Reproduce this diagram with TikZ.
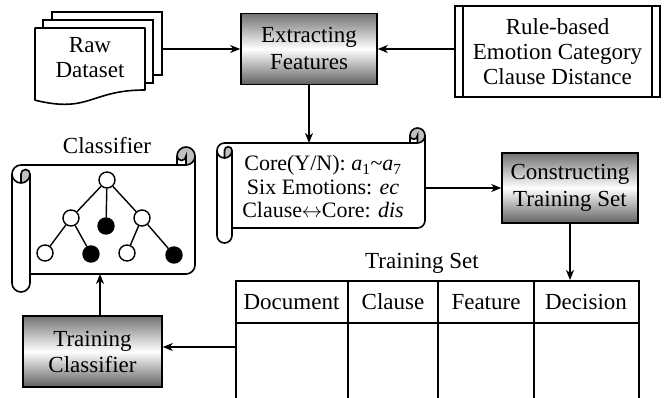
\documentclass[tikz,border=0pt]{standalone}
\usepackage{fontspec}
\setmainfont{Liberation Serif}
\usetikzlibrary{arrows.meta}
\tikzset{
  procbox/.style={draw, line width=1.6pt, top color=black!55, bottom color=black!62, middle color=white, align=center, inner sep=0pt},
  plainbox/.style={draw, line width=1.6pt, fill=white, align=center, inner sep=0pt},
  conn/.style={line width=1.6pt, -{Stealth[length=10pt,width=8pt,inset=3pt]}},
  lbl/.style={align=center, inner sep=0pt},
  outl/.style={line width=1.6pt},
  curl/.style={fill=black!25},
  opennode/.style={circle, draw, line width=1.4pt, fill=white, minimum size=16pt, inner sep=0pt},
  fullnode/.style={circle, draw, line width=1.4pt, fill=black, minimum size=16pt, inner sep=0pt},
  treeline/.style={line width=1.4pt}
}
% scroll shape: left, top, right, bottom, ch
\newcommand{\myscrollshape}[5]{%
  \pgfmathsetmacro{\scL}{#1}\pgfmathsetmacro{\scT}{#2}%
  \pgfmathsetmacro{\scR}{#3}\pgfmathsetmacro{\scB}{#4}%
  \pgfmathsetmacro{\scC}{#5}\pgfmathsetmacro{\scH}{#5/2}\pgfmathsetmacro{\scQ}{#5/4}%
  \pgfmathsetmacro{\yC}{\scT+\scC}\pgfmathsetmacro{\yH}{\scT+\scH}%
  \pgfmathsetmacro{\yThree}{\scT+1.5*\scC}\pgfmathsetmacro{\yFour}{\scT+2*\scC}%
  \pgfmathsetmacro{\ySix}{\scB-\scC}\pgfmathsetmacro{\ySeven}{\scB-\scH}%
  \pgfmathsetmacro{\yFive}{\ySix-\scH}%
  \pgfmathsetmacro{\xThree}{\scR-\scC}\pgfmathsetmacro{\xFour}{\scR-\scH}%
  \pgfmathsetmacro{\xH}{\scL+\scH}\pgfmathsetmacro{\xC}{\scL+\scC}%
  \fill[white] (\scL,\yThree) arc (180:270:\scH) -- (\xThree,\yC) -- (\xThree,\yH) arc (180:360:\scH)
     -- (\scR,\yFive) arc (0:90:\scH) -- (\xC,\ySix) -- (\xC,\ySeven) arc (0:180:\scH) -- cycle;
  \fill[curl] (\xH,\yFour) arc (90:0:\scH) arc (0:-180:\scQ) -- cycle;
  \fill[curl] (\xFour,\yC) arc (90:-180:\scH) arc (180:0:\scQ) -- cycle;
  \draw[outl, line join=round] (\scL,\yThree) arc (180:270:\scH) -- (\xThree,\yC) -- (\xThree,\yH) arc (180:360:\scH)
     -- (\scR,\yFive) arc (0:90:\scH) -- (\xC,\ySix) -- (\xC,\ySeven) arc (0:180:\scH) -- cycle;
  \draw[outl] (\xThree,\yC) -- (\xFour,\yC) arc (90:0:\scH);
  \draw[outl] (\xFour,\yC) -- (\xFour,\yH) arc (0:180:\scQ);
  \draw[outl] (\xH,\yFour) -- (\xH,\yThree) arc (180:360:\scQ) arc (0:180:\scH);
  \draw[outl] (\xC,\yThree) -- (\xC,\ySix);
}
\begin{document}
\begin{tikzpicture}[x=1pt,y=-1pt,font=\fontsize{23}{25}\selectfont]
\useasboundingbox (0,0) rectangle (668,398);

% Raw dataset stack
\draw[outl, fill=white] (52,12) rectangle (162,75);
\draw[outl, fill=white] (43,20) rectangle (153,83);
\draw[outl, fill=white, line join=round] (35,28) -- (145,28) -- (145,90) .. controls (90,90) and (90,113.6) .. (35,100.2) -- cycle;
\node[lbl] (raw) at (90,58) {Raw\\Dataset};
\coordinate (rawout) at (162,49);

% Extracting features
\node[procbox, minimum width=136pt, minimum height=71pt, font=\fontsize{23}{27}\selectfont] (extract) at (309,49) {Extracting\\Features};

% Rule-based box
\node[plainbox, minimum width=205pt, minimum height=91pt] (rule) at (557.5,51.5) {Rule-based\\Emotion Category\\Clause Distance};
\draw[outl] ([xshift=9pt]rule.north west) -- ([xshift=9pt]rule.south west);
\draw[outl] ([xshift=-9pt]rule.north east) -- ([xshift=-9pt]rule.south east);

\draw[conn] (rawout) -- (extract.west);
\draw[conn] (rule.west |- extract.east) -- (extract.east);

% Feature scroll
\myscrollshape{217}{128}{425}{243}{15}
\coordinate (ftop) at (311,143);
\coordinate (fright) at (425,188);
\node[lbl, font=\fontsize{22}{23.5}\selectfont] (feat) at (323,187) {Core(Y/N): \textit{a}\textsubscript{1}\textasciitilde\textit{a}\textsubscript{7}\\Six Emotions: \textit{ec}\\Clause\kern-0.5pt$\leftrightarrow$\kern-0.5pt Core: \textit{dis}};
\draw[conn] (extract.south) -- (extract.south |- ftop);

% Constructing training set
\node[procbox, minimum width=136pt, minimum height=70pt, font=\fontsize{23}{27}\selectfont] (cons) at (570,188) {Constructing\\Training Set};
\draw[conn] (fright) -- (cons.west);

% Training set table
\node[draw, line width=1.6pt, inner sep=0pt, minimum width=403pt, minimum height=122pt, anchor=north west] (tbl) at (235,280) {};
\draw[outl] (235,323) -- (638,323);
\draw[outl] (348,280) -- (348,402);
\draw[outl] (438,280) -- (438,402);
\draw[outl] (534,280) -- (534,402);
\node[lbl] (tslabel) at (422,263) {Training Set};
\node[lbl] (hdoc) at (291.5,302) {Document};
\node[lbl] (hcla) at (393,302) {Clause};
\node[lbl] (hfea) at (486,302) {Feature};
\node[lbl] (hdec) at (586,302) {Decision};
\draw[conn] (cons.south) -- (cons.south |- tbl.north);

% Training classifier
\node[procbox, minimum width=139pt, minimum height=71pt, font=\fontsize{23}{26}\selectfont] (train) at (92.5,351.5) {Training\\Classifier};
\coordinate (tleft) at (235,347);
\draw[conn] (tleft) -- (train.east |- tleft);

% Classifier scroll
\myscrollshape{12}{147}{195}{292}{18}
\coordinate (cbot) at (100,274);
\node[lbl] (clabel) at (107,146) {Classifier};
\draw[conn] (train.north -| cbot) -- (cbot);

% tree
\node[opennode] (r) at (107,180) {};
\node[opennode] (a) at (71,218) {};
\node[fullnode] (b) at (106,226) {};
\node[opennode] (c) at (142,218) {};
\node[opennode] (d) at (45,253) {};
\node[fullnode] (e) at (91,254) {};
\node[opennode] (f) at (127,253) {};
\node[fullnode] (g) at (174,255) {};
\draw[treeline] (r) -- (a); \draw[treeline] (r) -- (b); \draw[treeline] (r) -- (c);
\draw[treeline] (a) -- (d); \draw[treeline] (a) -- (e);
\draw[treeline] (c) -- (f); \draw[treeline] (c) -- (g);
\end{tikzpicture}
\end{document}
